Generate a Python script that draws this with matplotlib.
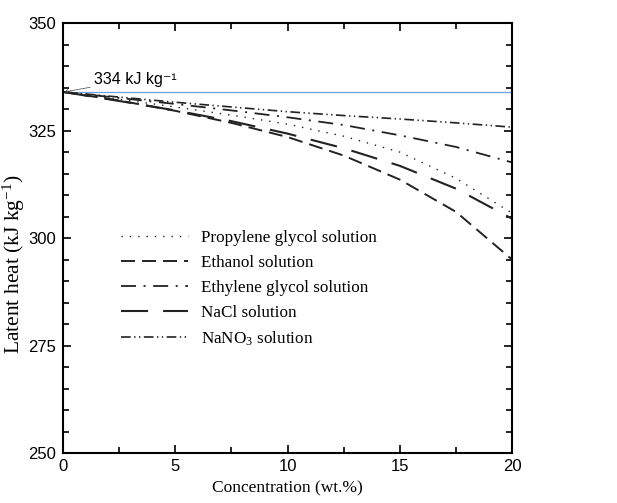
import numpy as np
import matplotlib
matplotlib.use("Agg")
import matplotlib.pyplot as plt
from matplotlib.ticker import MultipleLocator

plt.rcParams["mathtext.fontset"] = "custom"
plt.rcParams["mathtext.rm"] = "Liberation Serif"
plt.rcParams["mathtext.it"] = "Liberation Serif:italic"
plt.rcParams["mathtext.default"] = "regular"

# concentration (wt.%) and latent heat (kJ/kg)
conc = [0, 2.5, 5, 7.5, 10, 12.5, 15, 17.5, 20]
propylene = [334, 332.3, 330.5, 328.6, 326.5, 323.7, 320.0, 313.9, 305.8]
ethanol = [334, 332.0, 329.6, 326.8, 323.5, 319.2, 313.6, 306.1, 295.0]
ethylene = [334, 332.6, 331.2, 329.7, 328.1, 326.3, 323.9, 321.2, 317.6]
nacl = [334, 331.9, 329.7, 327.2, 324.3, 320.9, 316.8, 311.5, 304.5]
nano3 = [334, 332.8, 331.6, 330.5, 329.4, 328.5, 327.7, 326.8, 325.8]
pure_water = 334

labels = ["Propylene glycol solution", "Ethanol solution", "Ethylene glycol solution",
          "NaCl solution", "NaNO$_3$ solution"]

serif = "Liberation Serif"
sans = ["Liberation Sans", "DejaVu Sans"]

fig = plt.figure(figsize=(6.17, 5.03), dpi=100)
ax = fig.add_axes([0.102, 0.0994, 0.728, 0.8546])

ax.axhline(pure_water, color="#6f9fd8", lw=0.9, zorder=1)

ax.plot(conc, propylene, color="#222222", lw=1.0, linestyle=(0, (1, 5)), label=labels[0])
ax.plot(conc, ethanol, color="#222222", lw=1.4, linestyle=(0, (7.2, 3.6)), label=labels[1])
ax.plot(conc, ethylene, color="#222222", lw=1.3, linestyle=(0, (8.3, 4.2, 1.1, 4.2)), label=labels[2])
ax.plot(conc, nacl, color="#222222", lw=1.5, linestyle=(0, (13, 7.2)), label=labels[3])
ax.plot(conc, nano3, color="#222222", lw=1.2,
        linestyle=(0, (5.8, 2.1, 0.8, 2.1, 0.8, 2.1)), label=labels[4])

ax.annotate("334 kJ kg\u207b\u00b9", xy=(0.05, pure_water), xytext=(1.4, 335.9),
            fontsize=11.5, family=sans, va="baseline", ha="left",
            arrowprops=dict(arrowstyle="->", lw=0.5, color="#444444",
                            shrinkA=1, shrinkB=0, mutation_scale=6))

ax.set_xlim(0, 20)
ax.set_ylim(250, 350)
ax.xaxis.set_major_locator(MultipleLocator(5))
ax.xaxis.set_minor_locator(MultipleLocator(2.5))
ax.yaxis.set_major_locator(MultipleLocator(25))
ax.yaxis.set_minor_locator(MultipleLocator(5))
ax.tick_params(which="both", direction="in", top=True, right=True, width=1.2)
ax.tick_params(which="major", length=6, labelsize=12)
ax.tick_params(axis="x", which="major", pad=4)
ax.tick_params(axis="y", which="major", pad=5)
ax.tick_params(which="minor", length=4)
for t in ax.get_xticklabels() + ax.get_yticklabels():
    t.set_family(sans)
for s in ax.spines.values():
    s.set_linewidth(1.5)

ax.set_xlabel("Concentration (wt.%)", family=serif, fontsize=12.5, labelpad=5)
ax.set_ylabel("Latent heat (kJ kg$^{-1}$)", family=serif, fontsize=15.5)
ax.yaxis.set_label_coords(-0.08, 0.44)

leg = ax.legend(loc="upper left", bbox_to_anchor=(0.115, 0.535), frameon=False,
                prop={"family": serif, "size": 12.3}, handlelength=3.9,
                handletextpad=0.75, labelspacing=0.52, borderaxespad=0)

fig.savefig("out.png", dpi=100)
